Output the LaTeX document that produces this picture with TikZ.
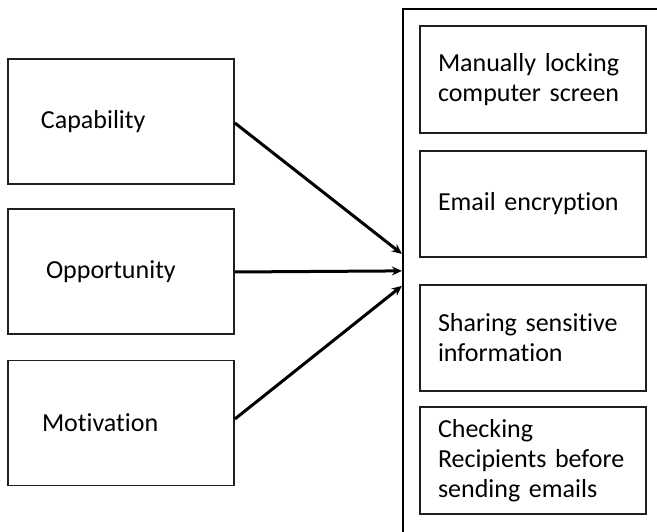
\documentclass[tikz,border=0pt]{standalone}
\usepackage{fontspec}
\setmainfont{Carlito}[Ligatures=NoCommon, WordSpace=0.6]
\usetikzlibrary{arrows.meta,calc}
\begin{document}
\begin{tikzpicture}[x=1pt,y=1pt,
  every node/.style={font=\fontsize{26}{30}\selectfont},
  leftbox/.style={draw=black!88, line width=1.8pt, minimum width=226pt, minimum height=125pt, align=left, anchor=center},
  rightbox/.style={draw=black!88, line width=1.8pt, minimum width=226pt, inner xsep=18pt, text width=190pt, align=left, anchor=center},
  outerbox/.style={draw=black, line width=2.2pt, minimum width=277pt, minimum height=553pt, inner sep=0pt},
  arr/.style={line width=3pt, -{Stealth[length=10pt,width=9pt]}}
]
\useasboundingbox (0,0) rectangle (657,532);
\clip (0,0) rectangle (657,532);
\fill[white] (0,0) rectangle (657,532);

\node[leftbox, inner xsep=33pt, text width=160pt] (cap) at (121,410.5) {Capability};
\node[leftbox, inner xsep=38pt, text width=150pt] (opp) at (121,260.5) {Opportunity};
\node[leftbox, inner xsep=34pt, text width=158pt] (mot) at (121,109) {Motivation};

\node[outerbox] (outer) at (541.5,246.5) {};

\node[rightbox, minimum height=107pt] (b1) at (533,452.5) {Manually locking\\computer screen};
\node[rightbox, minimum height=106pt] (b2) at (533,328) {Email encryption};
\node[rightbox, minimum height=106pt] (b3) at (533,194) {Sharing sensitive\\information};
\node[rightbox, minimum height=107pt] (b4) at (533,71.5) {Checking\\Recipients before\\sending emails};

\coordinate (t1) at ($(outer.north west)+(0,-246)$);
\coordinate (t2) at ($(outer.north west)+(0,-263)$);
\coordinate (t3) at ($(outer.north west)+(0,-278)$);

\draw[arr] ($(cap.east)+(0,-1.5)$) -- (t1);
\draw[arr] ($(opp.east)+(0,-0.5)$) -- (t2);
\draw[arr] ($(mot.east)+(0,4)$) -- (t3);
\end{tikzpicture}
\end{document}
